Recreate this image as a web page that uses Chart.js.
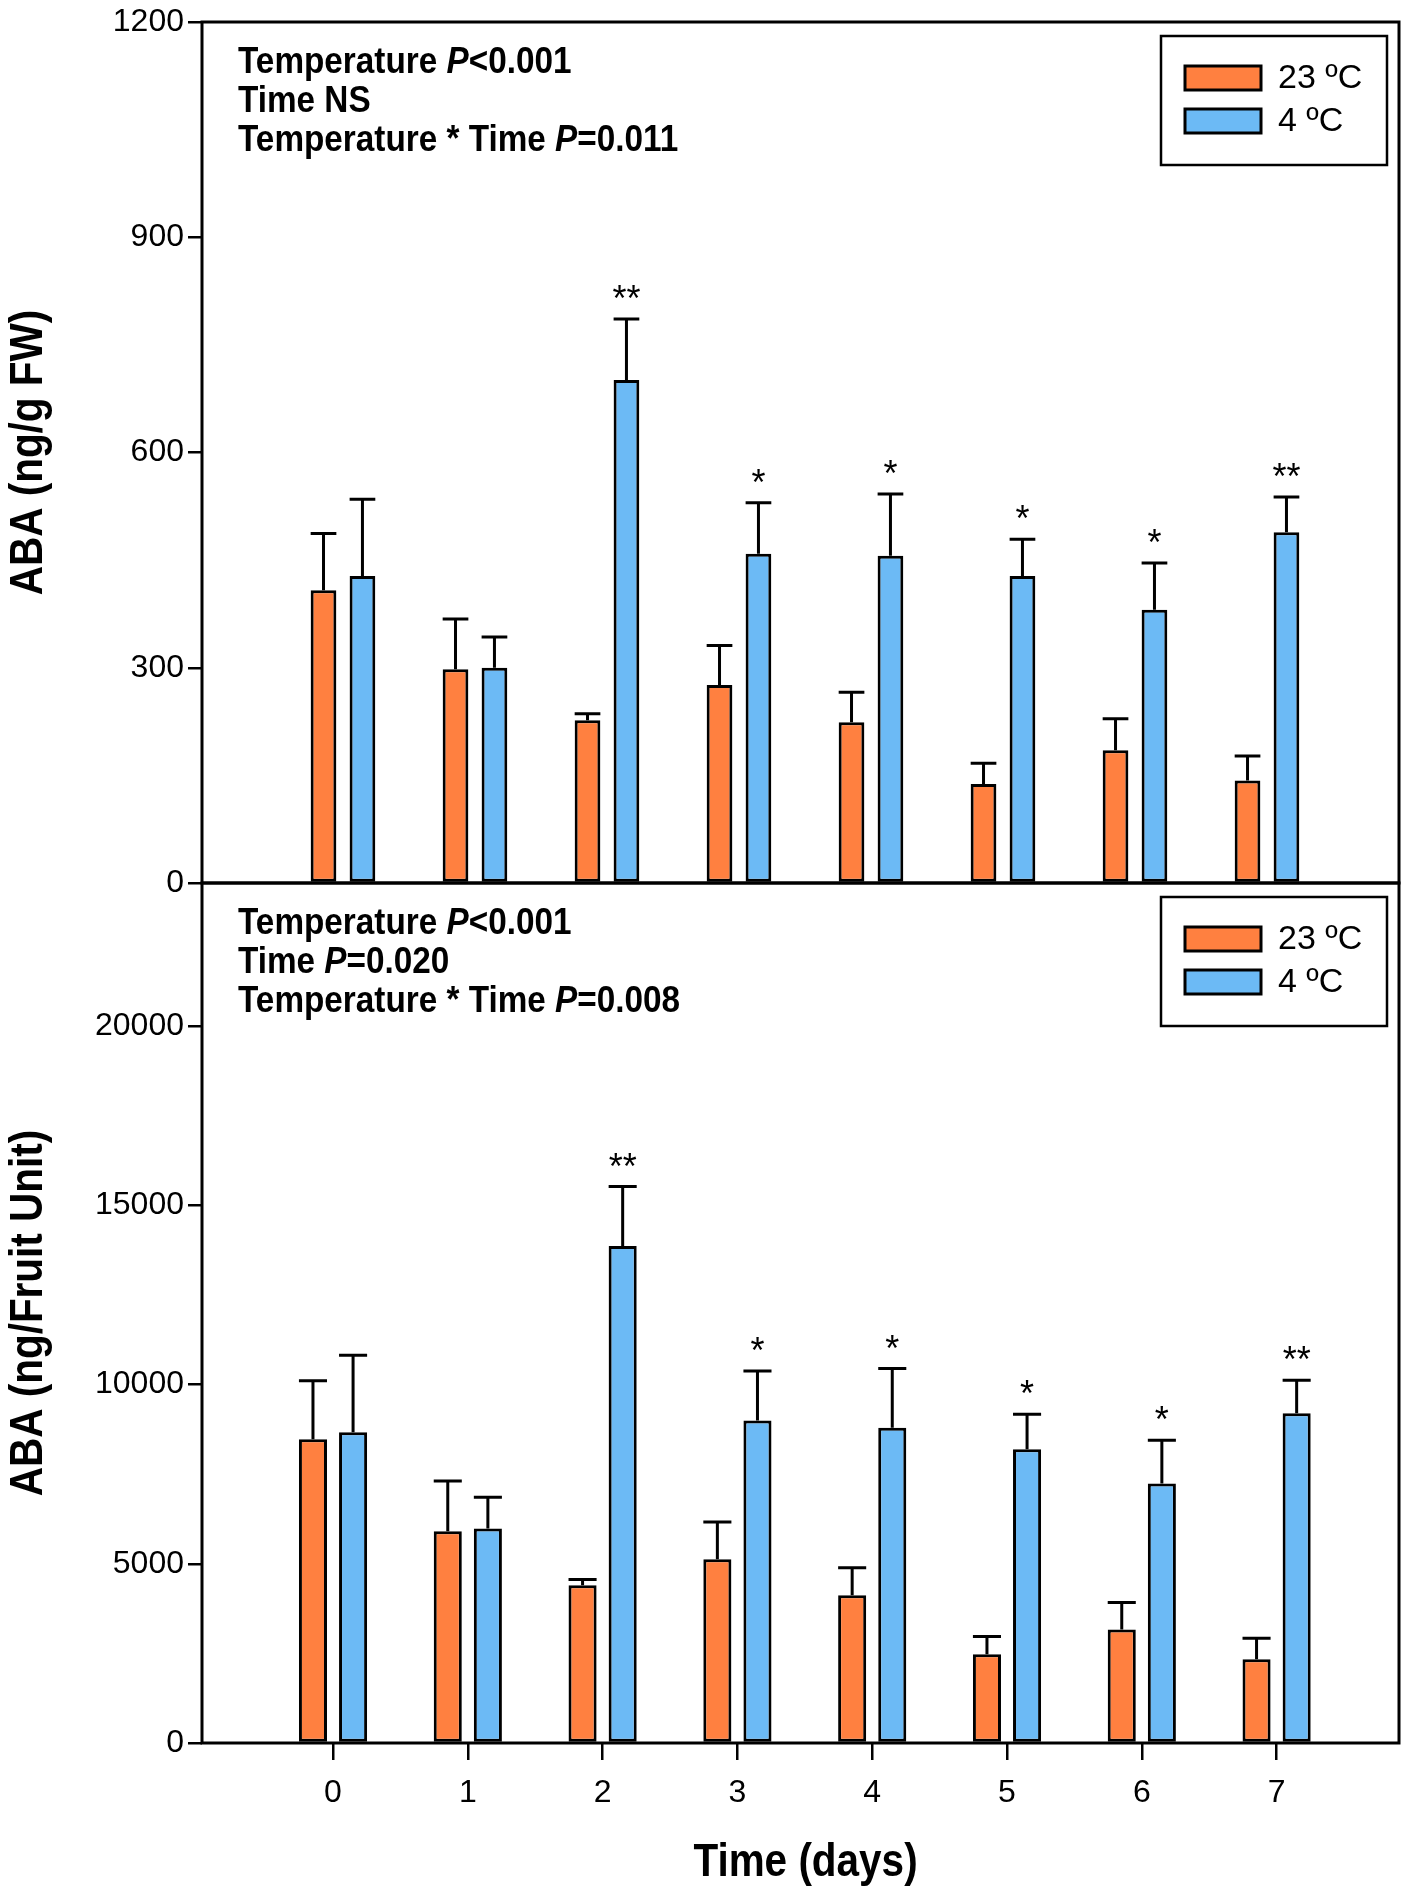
<!DOCTYPE html>
<html>
<head>
<meta charset="utf-8">
<script src="https://cdn.jsdelivr.net/npm/chart.js@4.4.1/dist/chart.umd.min.js"></script>
<style>
  html, body { margin: 0; padding: 0; background: #fff; }
  #wrap { position: relative; width: 1410px; height: 1894px; }
  canvas { position: absolute; left: 0; top: 0; }
</style>
</head>
<body>
<div id="wrap">
  <canvas id="topChart" width="1410" height="1894"></canvas>
  <canvas id="bottomChart" width="1410" height="1894"></canvas>
</div>
<script>
const days = [0, 1, 2, 3, 4, 5, 6, 7];
const seriesLabels = ['23 ºC', '4 ºC'];
const seriesColors = ['#ff8040', '#6cbaf5'];
const significance = ['', '', '**', '*', '*', '*', '*', '**'];

// ABA per g fresh weight
const warmFW = [408, 298, 227, 276, 224, 138, 185, 143];
const warmFWErr = [79, 70, 9, 55, 42, 29, 44, 34];
const coldFW = [428, 300, 701, 459, 456, 428, 381, 489];
const coldFWErr = [107, 43, 85, 71, 86, 51, 65, 49];
const fwTicks = [0, 300, 600, 900, 1200];

// ABA per fruit unit
const warmFruit = [8480, 5910, 4400, 5130, 4120, 2480, 3170, 2340];
const warmFruitErr = [1630, 1400, 160, 1040, 770, 495, 750, 580];
const coldFruit = [8670, 5985, 13870, 9000, 8800, 8200, 7245, 9200];
const coldFruitErr = [2150, 875, 1660, 1380, 1650, 975, 1205, 920];
const fruitTicks = [0, 5000, 10000, 15000, 20000];

const statsFW = [
  [['Temperature ', false], ['P', true], ['<0.001', false]],
  [['Time NS', false]],
  [['Temperature * Time ', false], ['P', true], ['=0.011', false]]
];
const statsFruit = [
  [['Temperature ', false], ['P', true], ['<0.001', false]],
  [['Time ', false], ['P', true], ['=0.020', false]],
  [['Temperature * Time ', false], ['P', true], ['=0.008', false]]
];

const FONT = '"Liberation Sans", Arial, sans-serif';
Chart.defaults.color = '#000';
Chart.defaults.font.family = FONT;

function drawRuns(ctx, runs, x, y, size, sx) {
  ctx.save();
  ctx.translate(x, y);
  ctx.scale(sx, 1);
  ctx.textBaseline = 'alphabetic';
  ctx.textAlign = 'left';
  let cx = 0;
  runs.forEach(([t, it]) => {
    ctx.font = (it ? 'italic ' : '') + 'bold ' + size + 'px ' + FONT;
    ctx.fillText(t, cx, 0);
    cx += ctx.measureText(t).width;
  });
  ctx.restore();
}

const panelDecor = {
  id: 'panelDecor',
  afterDatasetsDraw(chart, args, opts) {
    const ctx = chart.ctx;
    const area = chart.chartArea;
    const yScale = chart.scales.y;

    // error bars, upper side only
    ctx.save();
    ctx.strokeStyle = '#000';
    ctx.lineWidth = 3;
    opts.errors.forEach((errs, di) => {
      const meta = chart.getDatasetMeta(di);
      const vals = chart.data.datasets[di].data;
      meta.data.forEach((bar, i) => {
        const yTop = yScale.getPixelForValue(vals[i].y + errs[i]);
        const half = bar.width / 2;
        ctx.beginPath();
        ctx.moveTo(bar.x, bar.y);
        ctx.lineTo(bar.x, yTop);
        ctx.moveTo(bar.x - half, yTop);
        ctx.lineTo(bar.x + half, yTop);
        ctx.stroke();
        if (di === 1 && significance[i]) {
          ctx.fillStyle = '#000';
          ctx.font = '36px ' + FONT;
          ctx.textAlign = 'center';
          ctx.textBaseline = 'alphabetic';
          ctx.fillText(significance[i], bar.x, yTop - 8);
        }
      });
    });
    ctx.restore();

    // frame
    ctx.save();
    ctx.strokeStyle = '#000';
    ctx.lineWidth = 3;
    ctx.strokeRect(area.left, area.top, area.right - area.left, area.bottom - area.top);
    ctx.restore();

    // statistics text
    ctx.save();
    ctx.fillStyle = '#000';
    opts.stats.forEach((runs, k) => {
      drawRuns(ctx, runs, area.left + 36, area.top + 51 + k * 39, 37, 0.9);
    });
    ctx.restore();

    // legend
    ctx.save();
    const lx = 1161, ly = area.top + 14, lw = 226, lh = 129;
    ctx.strokeStyle = '#000';
    ctx.lineWidth = 2.5;
    ctx.strokeRect(lx, ly, lw, lh);
    seriesLabels.forEach((lab, k) => {
      const sy = ly + 30 + k * 43;
      ctx.fillStyle = seriesColors[k];
      ctx.fillRect(lx + 24, sy, 76, 24);
      ctx.lineWidth = 3;
      ctx.strokeRect(lx + 24, sy, 76, 24);
      ctx.fillStyle = '#000';
      ctx.font = '34px ' + FONT;
      ctx.textAlign = 'left';
      ctx.textBaseline = 'middle';
      ctx.fillText(lab, lx + 117, sy + 13);
    });
    ctx.restore();

    // y axis title
    ctx.save();
    ctx.translate(29, (area.top + area.bottom) / 2);
    ctx.rotate(-Math.PI / 2);
    ctx.scale(0.88, 1);
    ctx.fillStyle = '#000';
    ctx.font = 'bold 46px ' + FONT;
    ctx.textAlign = 'center';
    ctx.textBaseline = 'middle';
    ctx.fillText(opts.yTitle, 0, 0);
    ctx.restore();

    if (opts.xTitle) {
      ctx.save();
      ctx.translate((area.left + area.right) / 2 + 5, 1863);
      ctx.scale(0.88, 1);
      ctx.fillStyle = '#000';
      ctx.font = 'bold 46px ' + FONT;
      ctx.textAlign = 'center';
      ctx.textBaseline = 'middle';
      ctx.fillText(opts.xTitle, 0, 0);
      ctx.restore();
    }
  }
};

function makePanel(id, cfg) {
  const toPoints = vals => days.map((d, i) => ({ x: d, y: vals[i] }));
  return new Chart(document.getElementById(id), {
    type: 'bar',
    data: {
      datasets: [
        { label: seriesLabels[0], data: toPoints(cfg.warm), backgroundColor: seriesColors[0],
          borderColor: '#000', borderWidth: 3, borderSkipped: false,
          categoryPercentage: cfg.catPct, barPercentage: cfg.barPct },
        { label: seriesLabels[1], data: toPoints(cfg.cold), backgroundColor: seriesColors[1],
          borderColor: '#000', borderWidth: 3, borderSkipped: false,
          categoryPercentage: cfg.catPct, barPercentage: cfg.barPct }
      ]
    },
    options: {
      responsive: false,
      animation: false,
      devicePixelRatio: 1,
      layout: { padding: cfg.padding },
      plugins: {
        legend: { display: false },
        tooltip: { enabled: false },
        panelDecor: { errors: [cfg.warmErr, cfg.coldErr], stats: cfg.stats, yTitle: cfg.yTitle, xTitle: cfg.xTitle }
      },
      scales: {
        x: {
          type: 'linear',
          min: cfg.xMin,
          max: cfg.xMax,
          display: cfg.showX,
          offset: false,
          ticks: { font: { size: 32 }, padding: 14, autoSkip: false, maxRotation: 0, callback: v => String(v) },
          afterBuildTicks: s => { s.ticks = days.map(v => ({ value: v })); },
          afterFit: s => { if (cfg.showX) s.height = 151; },
          grid: { offset: false, drawOnChartArea: false, drawTicks: true, tickLength: 17, color: '#000', lineWidth: 2.5 },
          border: { display: false }
        },
        y: {
          min: 0,
          max: cfg.yMax,
          ticks: { font: { size: 32 }, padding: 4, autoSkip: false, callback: v => String(v) },
          afterBuildTicks: s => { s.ticks = cfg.yTicks.map(v => ({ value: v })); },
          afterFit: s => { s.width = 202; s.paddingTop = 0; s.paddingBottom = 0; },
          grid: { drawOnChartArea: false, drawTicks: true, tickLength: 14, color: '#000', lineWidth: 2.5 },
          border: { display: false }
        }
      }
    },
    plugins: [panelDecor]
  });
}

makePanel('topChart', {
  warm: warmFW, warmErr: warmFWErr, cold: coldFW, coldErr: coldFWErr,
  yMax: 1200, yTicks: fwTicks, xMin: -1.068, xMax: 8, showX: false,
  catPct: 0.59, barPct: 0.66,
  padding: { left: 0, top: 22, right: 11, bottom: 1011 },
  stats: statsFW, yTitle: 'ABA (ng/g FW)'
});

makePanel('bottomChart', {
  warm: warmFruit, warmErr: warmFruitErr, cold: coldFruit, coldErr: coldFruitErr,
  yMax: 24000, yTicks: fruitTicks, xMin: -0.972, xMax: 7.908, showX: true,
  catPct: 0.595, barPct: 0.7,
  padding: { left: 0, top: 883, right: 11, bottom: 0 },
  stats: statsFruit, yTitle: 'ABA (ng/Fruit Unit)', xTitle: 'Time (days)'
});
</script>
</body>
</html>
